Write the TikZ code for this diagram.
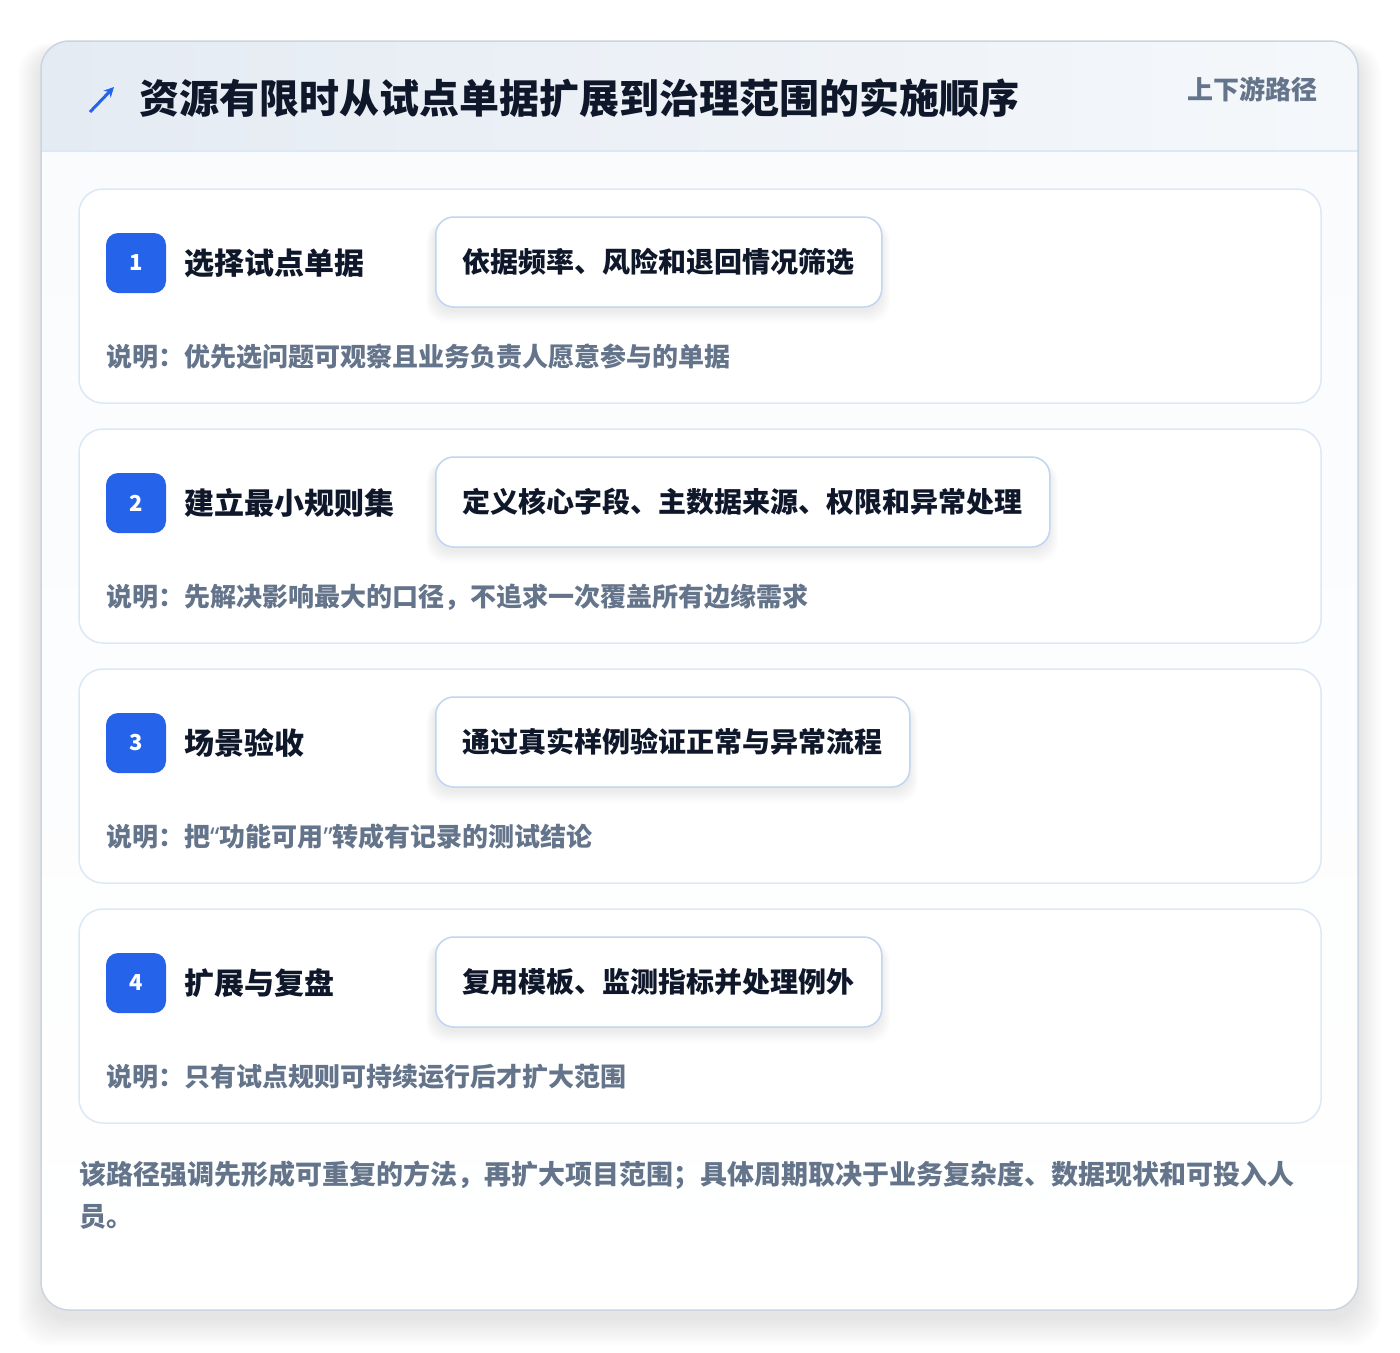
\documentclass[tikz,border=0pt]{standalone}
\usepackage{fontspec}
\usetikzlibrary{arrows.meta}
\setmainfont{Noto Sans CJK SC}
\newfontfamily\latinq{Noto Sans}
\definecolor{ink}{HTML}{0F172A}
\definecolor{muted}{HTML}{64748B}
\definecolor{accent}{HTML}{2563EB}
\definecolor{cardline}{HTML}{CBD5E1}
\definecolor{stepline}{HTML}{DCE8F6}
\definecolor{pillline}{HTML}{BFD5F2}
\definecolor{hdrL}{HTML}{E5EBF3}
\definecolor{hdrR}{HTML}{F5F8FB}
\definecolor{hdrline}{HTML}{DCE8F6}
\definecolor{cardfill}{HTML}{F9FBFD}
\tikzset{
  badge/.style={fill=accent, rounded corners=12pt, minimum size=60pt, inner sep=0pt,
    text=white, font=\bfseries\fontsize{22}{22}\selectfont},
  steptitle/.style={anchor=west, inner sep=0pt, text=ink, font=\bfseries\fontsize{30}{30}\selectfont},
  pill/.style={anchor=west, draw=pillline, line width=1.5pt, fill=white, rounded corners=18pt,
    inner xsep=27pt, inner ysep=0pt, minimum height=90pt, text=ink, font=\bfseries\fontsize{28}{28}\selectfont},
  note/.style={anchor=west, inner sep=0pt, text=muted, font=\bfseries\fontsize{26}{26}\selectfont},
  stepcard/.style={draw=stepline, line width=1.5pt, fill=white, rounded corners=24pt},
}
\newcommand{\pillshadow}[4]{%
  \foreach \i in {1,...,10} {
    \fill[black, opacity=0.007, rounded corners=20pt]
      ({#1-\i*0.9},{#2+4}) rectangle ({#3+\i*0.9},{#4+3+\i*1.3});
  }%
}
\begin{document}
\begin{tikzpicture}[x=1pt, y=-1pt]
\useasboundingbox (0,0) rectangle (1400,1352);
\fill[white] (0,0) rectangle (1400,1352);
% outer card shadow
\foreach \i in {1,...,26} {
  \fill[black, opacity=0.0045, rounded corners=30pt]
    ({41-\i*0.9},{41-\i*0.3+10}) rectangle ({1358+\i*0.9},{1310+\i*1.1+8});
}
% outer card
\begin{scope}
  \clip[rounded corners=28pt] (41,41) rectangle (1358,1310);
  \shade[top color=cardfill, bottom color=white] (41,151) rectangle (1358,1310);
  \shade[left color=hdrL, right color=hdrR] (41,41) rectangle (1358,151);
\end{scope}
\draw[hdrline, line width=1.5pt] (41,151) -- (1358,151);
\draw[cardline, line width=1.5pt, rounded corners=28pt] (41,41) rectangle (1358,1310);

% header
\coordinate (arrA) at (90,112);
\coordinate (arrB) at (114,87);
\draw[accent, line width=3pt, -{Stealth[length=10pt,width=10pt]}] (arrA) -- (arrB);
\node[anchor=west, inner sep=0pt, text=ink, font=\bfseries\fontsize{40}{40}\selectfont] (title) at (139,98) {资源有限时从试点单据扩展到治理范围的实施顺序};
\node[anchor=east, inner sep=0pt, text=muted, font=\bfseries\fontsize{26}{26}\selectfont] (tag) at (1318,89) {上下游路径};

% step 1
\draw[stepcard] (79,189) rectangle (1321,403);
\pillshadow{435}{217}{881}{307}
\node[badge] (b1) at (136,263) {1};
\node[steptitle] (t1) at (184,263) {选择试点单据};
\node[pill] (p1) at (435,262) {依据频率、风险和退回情况筛选};
\node[note] (n1) at (106,357) {说明：优先选问题可观察且业务负责人愿意参与的单据};

% step 2
\draw[stepcard] (79,429) rectangle (1321,643);
\pillshadow{435}{457}{1049}{547}
\node[badge] (b2) at (136,503) {2};
\node[steptitle] (t2) at (184,503) {建立最小规则集};
\node[pill] (p2) at (435,502) {定义核心字段、主数据来源、权限和异常处理};
\node[note] (n2) at (106,597) {说明：先解决影响最大的口径，不追求一次覆盖所有边缘需求};

% step 3
\draw[stepcard] (79,669) rectangle (1321,883);
\pillshadow{435}{697}{909}{787}
\node[badge] (b3) at (136,743) {3};
\node[steptitle] (t3) at (184,743) {场景验收};
\node[pill] (p3) at (435,742) {通过真实样例验证正常与异常流程};
\node[note] (n3) at (106,837) {说明：把{\latinq “}功能可用{\latinq ”}转成有记录的测试结论};

% step 4
\draw[stepcard] (79,909) rectangle (1321,1123);
\pillshadow{435}{937}{881}{1027}
\node[badge] (b4) at (136,983) {4};
\node[steptitle] (t4) at (184,983) {扩展与复盘};
\node[pill] (p4) at (435,982) {复用模板、监测指标并处理例外};
\node[note] (n4) at (106,1077) {说明：只有试点规则可持续运行后才扩大范围};

% footer
\node[anchor=west, inner sep=0pt, text=muted, font=\bfseries\fontsize{27}{27}\selectfont] (f1) at (79,1175) {该路径强调先形成可重复的方法，再扩大项目范围；具体周期取决于业务复杂度、数据现状和可投入人};
\node[anchor=west, inner sep=0pt, text=muted, font=\bfseries\fontsize{27}{27}\selectfont] (f2) at (79,1217) {员。};
\end{tikzpicture}
\end{document}
